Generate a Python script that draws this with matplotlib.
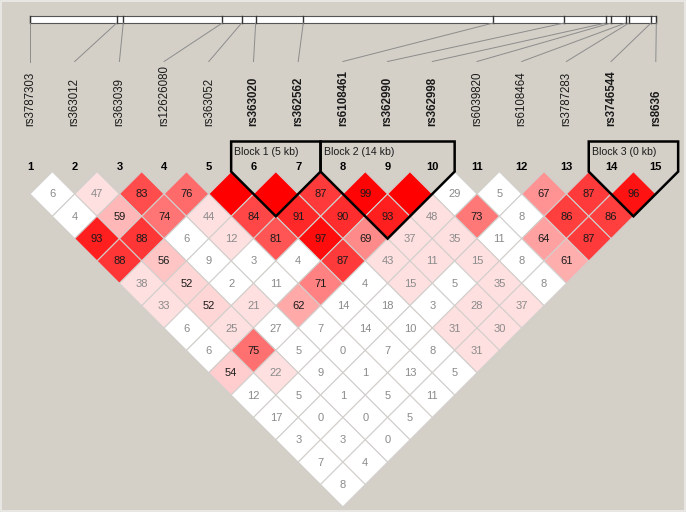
import matplotlib.pyplot as plt
from matplotlib.patches import Polygon, Rectangle

# SNP names and physical positions (kb, relative to first SNP)
snps = ['rs3787303', 'rs363012', 'rs363039', 'rs12626080', 'rs363052',
        'rs363020', 'rs362562', 'rs6108461', 'rs362990', 'rs362998',
        'rs6039820', 'rs6108464', 'rs3787283', 'rs3746544', 'rs8636']
pos_kb = [0.0, 10.84, 11.66, 24.04, 26.46, 28.21, 34.16, 57.91, 66.79,
          71.96, 72.63, 74.46, 74.88, 77.63, 78.29]

# haplotype blocks (first SNP, last SNP), 1-based
blocks = [(6, 7), (8, 10), (14, 15)]

# D' x 100, one list per diagonal (pair distance 1..14); 100 = shown without number
dprime = [
    [6, 47, 83, 76, 100, 100, 87, 99, 100, 29, 5, 67, 87, 96],
    [4, 59, 74, 44, 84, 91, 90, 93, 48, 73, 8, 86, 86],
    [93, 88, 6, 12, 81, 97, 69, 37, 35, 11, 64, 87],
    [88, 56, 9, 3, 4, 87, 43, 11, 15, 8, 61],
    [38, 52, 2, 11, 71, 4, 15, 5, 35, 8],
    [33, 52, 21, 62, 14, 18, 3, 28, 37],
    [6, 25, 27, 7, 14, 10, 31, 30],
    [6, 75, 5, 0, 7, 8, 31],
    [54, 22, 9, 1, 13, 5],
    [12, 5, 1, 5, 11],
    [17, 0, 0, 5],
    [3, 3, 0],
    [7, 4],
    [8],
]
# LOD >= 2 flag for each pair, same layout
lod_hi = [
    [0, 1, 1, 1, 1, 1, 1, 1, 1, 0, 0, 1, 1, 1],
    [0, 1, 1, 1, 1, 1, 1, 1, 1, 1, 0, 1, 1],
    [1, 1, 0, 1, 1, 1, 1, 1, 1, 0, 1, 1],
    [1, 1, 0, 0, 0, 1, 1, 1, 1, 0, 1],
    [1, 1, 0, 0, 1, 0, 1, 0, 1, 0],
    [1, 1, 1, 1, 0, 0, 0, 1, 1],
    [0, 1, 0, 0, 0, 0, 1, 1],
    [0, 1, 0, 0, 0, 0, 1],
    [1, 1, 0, 0, 0, 0],
    [0, 0, 0, 0, 0],
    [0, 0, 0, 0],
    [0, 0, 0],
    [0, 0],
    [0],
]

BG = '#d4d0c8'
fig = plt.figure(figsize=(6.86, 5.12), dpi=100)
fig.patch.set_facecolor(BG)
ax = fig.add_axes([0, 0, 1, 1])
ax.set_xlim(0, 686)
ax.set_ylim(512, 0)
ax.axis('off')

font = 'Liberation Sans'
x0, step = 30.0, 44.7
h = step / 2
top = 171.6
xs = [x0 + i * step for i in range(len(snps))]


def cell_color(d, hi):
    if not hi:
        return 'white'
    if d < 50:
        return (1.0, 224 / 255, 224 / 255)
    g = (255 - 32) * 2 * (1 - d / 100.0) / 255.0
    return (1.0, g, g)


# LD diamonds
for k, row in enumerate(dprime):
    dist = k + 1
    for i, val in enumerate(row):
        cx = (xs[i] + xs[i + dist]) / 2
        cy = top + dist * h
        col = cell_color(val, lod_hi[k][i])
        ax.add_patch(Polygon([(cx, cy - h), (cx + h, cy), (cx, cy + h), (cx - h, cy)],
                             closed=True, facecolor=col, edgecolor='#d2cfcc', lw=0.8))
        if val < 100:
            tc = '#1a1a1a' if (lod_hi[k][i] and val >= 50) else '#8a8a8a'
            ax.text(cx, cy + 0.5, str(val), ha='center', va='center', fontsize=8,
                    color=tc, family=font)

# SNP index numbers
for i, x in enumerate(xs):
    ax.text(x, 167, str(i + 1), ha='center', va='center', fontsize=8,
            fontweight='bold', family=font, color='black')

# block outlines and labels
for b, (a, e) in enumerate(blocks):
    L = xs[a - 1] - h
    R = xs[e - 1] + h
    cx = (xs[a - 1] + xs[e - 1]) / 2
    cy = top + (e - a) * h + h
    ax.add_patch(Polygon([(L, 141.5), (L, top), (cx, cy), (R, top), (R, 141.5)],
                         closed=True, fill=False, edgecolor='black', lw=1.8,
                         joinstyle='miter', zorder=5))
    kb = int(pos_kb[e - 1] - pos_kb[a - 1])
    ax.text(L + 3, 152, f'Block {b + 1} ({kb} kb)', ha='left', va='center',
            fontsize=7.6, family=font, color='#1a1a1a', zorder=6)

# physical map bar
bx0, bx1 = xs[0], 656.3
span = pos_kb[-1] - pos_kb[0]
px = [bx0 + (p - pos_kb[0]) / span * (bx1 - bx0) for p in pos_kb]
ax.add_patch(Rectangle((bx0, 16), bx1 - bx0, 7, facecolor='white',
                       edgecolor='#555555', lw=0.8))
in_block = set()
for a, e in blocks:
    in_block.update(range(a, e + 1))
for i, (p, x) in enumerate(zip(px, xs)):
    ax.plot([p, p], [16, 23], color='#333333', lw=1.0)
    ax.plot([p, x], [23, 61.5], color='#8c8c8c', lw=0.7)
    ax.text(x, 126, snps[i], rotation=90, ha='center', va='bottom', fontsize=8.3,
            family=font, color='#1a1a1a',
            fontweight='bold' if (i + 1) in in_block else 'normal')

# light frame around the panel
ax.add_patch(Rectangle((0.8, 0.8), 684.4, 510.4, fill=False, edgecolor='#ecebe8', lw=1.2))

fig.savefig('out.png', dpi=100, facecolor=BG)
